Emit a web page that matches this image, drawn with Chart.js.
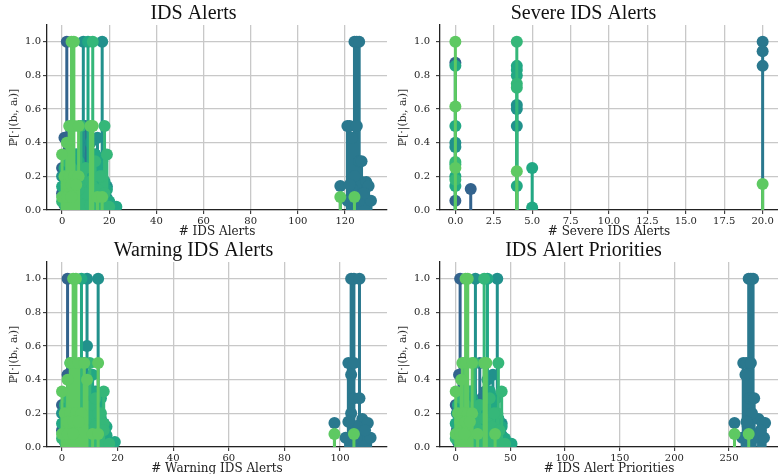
<!DOCTYPE html>
<html>
<head>
<meta charset="utf-8">
<script src="https://cdn.jsdelivr.net/npm/chart.js@4.4.0/dist/chart.umd.min.js"></script>
<style>
  body { margin: 0; background: #fff; width: 778px; height: 474px; overflow: hidden; position: relative; }
  canvas { position: absolute; }
</style>
</head>
<body>
<canvas id="c1" width="389" height="237" style="left:0;top:0"></canvas>
<canvas id="c2" width="389" height="237" style="left:389px;top:0"></canvas>
<canvas id="c3" width="389" height="237" style="left:0;top:237px"></canvas>
<canvas id="c4" width="389" height="237" style="left:389px;top:237px"></canvas>
<script>
// viridis shades, one per group of stems
const colors = ['#33638d', '#2a788e', '#21918c', '#22a884', '#35b779', '#5ec962'];
const yTicks = [0, 0.2, 0.4, 0.6, 0.8, 1.0];
const yTitle = 'ℙ[·|(bᵢ, aᵢ)]';

// IDS Alerts
const idsX = [
  [2, 1, 0, 1, 3, 13, 0, 6, 10, 8],
  [10, 11, 12, 6, 14, 5, 1, 3, 7, 9, 15, 17, 124, 125, 126, 121, 122, 125, 123, 126, 127, 118, 127, 129, 130, 123, 121, 126, 131, 128, 124, 122],
  [9, 17, 15, 12, 3, 8, 0, 15, 19, 8, 4, 1, 9, 16, 6, 2, 5, 7, 10, 13, 17, 19, 3, 11, 14],
  [11, 7, 15, 16, 10, 14, 18, 0, 11, 16, 9, 7, 18, 20, 23, 6, 1, 1, 3, 5, 8, 12, 14, 17, 19, 2, 9, 13],
  [13, 4, 8, 18, 19, 17, 9, 12, 13, 17, 11, 2, 5, 3, 10, 14, 0, 4, 6, 8, 10, 12, 15, 16, 18, 20, 7],
  [4, 5, 3, 5, 7, 12, 13, 2, 0, 1, 3, 5, 7, 2, 4, 6, 0, 2, 4, 15, 17, 118, 124]
];
const idsP = [
  [1.0, 0.43, 0.25, 0.12, 0.05, 0.03, 0.1, 0.29, 0.14, 0.07],
  [0.5, 0.29, 0.33, 0.12, 0.1, 0.03, 0.03, 0.17, 0.1, 0.14, 0.05, 0.14, 1.0, 1.0, 1.0, 0.5, 0.5, 0.5, 0.43, 0.29, 0.29, 0.143, 0.167, 0.167, 0.143, 0.125, 0.055, 0.055, 0.055, 0.1, 0.2, 0.15],
  [1.0, 1.0, 0.43, 0.4, 0.29, 0.25, 0.2, 0.17, 0.14, 0.12, 0.1, 0.05, 0.03, 0.04, 0.33, 0.07, 0.1, 0.17, 0.03, 0.25, 0.03, 0.07, 0.14, 0.17, 0.33],
  [1.0, 0.29, 0.29, 0.25, 0.2, 0.2, 0.17, 0.14, 0.12, 0.12, 0.1, 0.05, 0.05, 0.05, 0.02, 0.33, 0.1, 0.25, 0.03, 0.33, 0.07, 0.05, 0.33, 0.29, 0.12, 0.2, 0.25, 0.07],
  [1.0, 0.5, 0.5, 0.5, 0.33, 0.2, 0.17, 0.17, 0.14, 0.1, 0.05, 0.29, 0.14, 0.33, 0.25, 0.29, 0.05, 0.25, 0.07, 0.03, 0.1, 0.03, 0.12, 0.2, 0.1, 0.02, 0.12],
  [1.0, 1.0, 0.5, 0.5, 0.5, 0.5, 0.5, 0.4, 0.33, 0.2, 0.2, 0.2, 0.2, 0.15, 0.15, 0.15, 0.077, 0.077, 0.077, 0.077, 0.077, 0.077, 0.077]
];
const idsTicks = [0, 20, 40, 60, 80, 100, 120];

// Severe IDS Alerts
const severeX = [
  [0, 0, 1],
  [20, 20, 20],
  [0, 0, 4, 4, 4],
  [0, 0, 0, 0, 4, 4, 4, 4, 5, 5],
  [0, 0, 0, 4, 4, 4],
  [0, 0, 0, 4, 20]
];
const severeP = [
  [0.875, 0.055, 0.125],
  [1.0, 0.944, 0.857],
  [0.4, 0.375, 0.625, 0.6, 0.5],
  [0.857, 0.5, 0.2, 0.143, 0.857, 0.833, 0.8, 0.143, 0.25, 0.015],
  [0.286, 0.27, 0.18, 1.0, 0.75, 0.727],
  [1.0, 0.615, 0.25, 0.23, 0.154]
];
const severeTicks = [0, 2.5, 5, 7.5, 10, 12.5, 15, 17.5, 20];

// Warning IDS Alerts
const warnX = [
  [2, 2, 0, 1, 3, 11, 0, 5, 8, 6],
  [8, 9, 10, 5, 12, 4, 1, 2, 6, 7, 12, 14, 104, 105, 107, 103, 105, 104, 105, 107, 98, 108, 110, 106, 102, 106, 111, 109, 104, 103],
  [9, 13, 9, 7, 3, 6, 0, 12, 15, 6, 3, 1, 8, 14, 5, 2, 4, 6, 8, 11, 14, 15, 3, 9, 12],
  [7, 11, 12, 13, 8, 12, 14, 0, 9, 13, 7, 6, 15, 16, 19, 5, 1, 1, 3, 4, 7, 10, 11, 14, 16, 2, 7, 11],
  [10, 3, 7, 15, 15, 14, 8, 10, 11, 13, 9, 2, 4, 3, 11, 12, 0, 3, 5, 7, 8, 10, 12, 13, 15, 17, 6],
  [4, 5, 3, 4, 6, 8, 13, 2, 0, 1, 3, 5, 7, 9, 2, 4, 6, 0, 2, 4, 11, 13, 98, 105]
];
const warnP = [
  [1.0, 0.43, 0.25, 0.12, 0.05, 0.03, 0.1, 0.29, 0.14, 0.07],
  [0.5, 0.29, 0.33, 0.12, 0.1, 0.03, 0.03, 0.17, 0.1, 0.14, 0.05, 0.14, 1.0, 1.0, 1.0, 0.5, 0.5, 0.43, 0.29, 0.29, 0.143, 0.167, 0.143, 0.125, 0.055, 0.055, 0.055, 0.1, 0.2, 0.15],
  [1.0, 1.0, 0.6, 0.29, 0.29, 0.25, 0.2, 0.17, 0.14, 0.12, 0.1, 0.05, 0.03, 0.04, 0.33, 0.07, 0.1, 0.17, 0.03, 0.25, 0.03, 0.07, 0.14, 0.17, 0.33],
  [1.0, 0.43, 0.29, 0.25, 0.2, 0.2, 0.17, 0.14, 0.12, 0.12, 0.1, 0.05, 0.05, 0.07, 0.03, 0.33, 0.1, 0.25, 0.03, 0.33, 0.07, 0.05, 0.33, 0.29, 0.12, 0.2, 0.25, 0.07],
  [0.5, 0.5, 0.5, 0.33, 0.14, 0.2, 0.17, 0.17, 0.2, 0.1, 0.05, 0.29, 0.14, 0.33, 0.25, 0.29, 0.05, 0.25, 0.07, 0.03, 0.1, 0.03, 0.12, 0.2, 0.1, 0.02, 0.12],
  [1.0, 1.0, 0.5, 0.5, 0.5, 0.5, 0.5, 0.4, 0.33, 0.2, 0.2, 0.2, 0.2, 0.4, 0.15, 0.15, 0.15, 0.077, 0.077, 0.077, 0.077, 0.077, 0.077, 0.077]
];
const warnTicks = [0, 20, 40, 60, 80, 100];

// IDS Alert Priorities
const prioX = [
  [4, 3, 0, 2, 7, 29, 1, 13, 22, 17],
  [22, 24, 27, 13, 31, 11, 2, 7, 15, 20, 33, 38, 268, 270, 272, 263, 266, 270, 265, 269, 273, 255, 277, 281, 283, 267, 262, 274, 282, 279, 271, 266],
  [18, 38, 34, 29, 12, 17, 1, 33, 42, 18, 9, 2, 20, 36, 14, 4, 11, 15, 22, 29, 37, 42, 7, 24, 31],
  [29, 15, 35, 33, 22, 28, 39, 0, 24, 36, 20, 15, 40, 45, 51, 13, 3, 2, 7, 11, 18, 26, 31, 37, 42, 4, 20, 29],
  [26, 8, 17, 39, 42, 38, 20, 26, 30, 38, 25, 5, 11, 7, 22, 31, 0, 9, 13, 18, 22, 26, 33, 35, 40, 45, 15],
  [9, 11, 6, 10, 15, 26, 28, 5, 0, 2, 7, 11, 15, 4, 9, 13, 0, 4, 8, 20, 36, 255, 268]
];
const prioP = [
  [1.0, 0.43, 0.25, 0.12, 0.05, 0.03, 0.1, 0.29, 0.14, 0.07],
  [0.5, 0.29, 0.33, 0.12, 0.1, 0.03, 0.03, 0.17, 0.1, 0.14, 0.05, 0.14, 1.0, 1.0, 1.0, 0.5, 0.5, 0.5, 0.43, 0.29, 0.29, 0.143, 0.167, 0.143, 0.143, 0.125, 0.055, 0.055, 0.055, 0.1, 0.2, 0.15],
  [1.0, 1.0, 0.43, 0.4, 0.29, 0.25, 0.2, 0.17, 0.14, 0.12, 0.1, 0.05, 0.03, 0.04, 0.33, 0.07, 0.1, 0.17, 0.03, 0.25, 0.03, 0.07, 0.14, 0.17, 0.33],
  [1.0, 0.29, 0.29, 0.25, 0.2, 0.2, 0.17, 0.14, 0.12, 0.12, 0.1, 0.05, 0.05, 0.05, 0.02, 0.33, 0.1, 0.25, 0.03, 0.33, 0.07, 0.05, 0.33, 0.29, 0.12, 0.2, 0.25, 0.07],
  [1.0, 0.5, 0.5, 0.5, 0.33, 0.2, 0.17, 0.17, 0.14, 0.1, 0.05, 0.29, 0.14, 0.33, 0.25, 0.29, 0.05, 0.25, 0.07, 0.03, 0.1, 0.03, 0.12, 0.2, 0.1, 0.02, 0.12],
  [1.0, 1.0, 0.5, 0.5, 0.5, 0.5, 0.5, 0.4, 0.33, 0.2, 0.2, 0.2, 0.2, 0.15, 0.15, 0.15, 0.077, 0.077, 0.077, 0.077, 0.077, 0.077, 0.077]
];
const prioTicks = [0, 50, 100, 150, 200, 250];

// one stem = baseline point, top point, gap
function stems(xs, ps) {
  const d = [];
  xs.forEach((x, i) => {
    d.push({ x: x, y: 0 });
    d.push({ x: x, y: ps[i], top: true });
    d.push({ x: x, y: null });
  });
  return d;
}

function panel(id, title, xTitle, xs, ps, xMin, xMax, xTicks, dec, yWidth, yPad, rightPad) {
  const datasets = colors.map((c, i) => ({
    data: stems(xs[i], ps[i]),
    showLine: true,
    spanGaps: false,
    borderColor: c,
    backgroundColor: c,
    borderWidth: 3,
    pointRadius: ctx => (ctx.raw && ctx.raw.top) ? 6 : 0,
    pointHoverRadius: 0,
    pointBorderWidth: 0,
    order: colors.length - 1 - i
  }));
  new Chart(document.getElementById(id), {
    type: 'scatter',
    data: { datasets },
    options: {
      responsive: false,
      animation: false,
      events: [],
      layout: { padding: { top: 2, right: rightPad, left: 0, bottom: 0 } },
      plugins: {
        legend: { display: false },
        tooltip: { enabled: false },
        title: {
          display: true, text: title, color: '#111', padding: 0,
          font: { family: 'Liberation Serif', size: 20, weight: 'normal', lineHeight: 1.15 }
        }
      },
      scales: {
        x: {
          type: 'linear', min: xMin, max: xMax,
          afterBuildTicks: s => { s.ticks = xTicks.map(v => ({ value: v })); },
          afterFit: s => { s.height = 27; },
          ticks: {
            callback: v => v.toFixed(dec), color: '#222', padding: 1, maxRotation: 0, autoSkip: false,
            font: { family: 'DejaVu Serif', size: 10 }
          },
          grid: { color: '#c8c8c8', lineWidth: 1.3, tickColor: '#222', tickLength: 4, tickWidth: 1 },
          border: { color: '#222', width: 1.3 },
          title: {
            display: true, text: xTitle, color: '#222', padding: { top: 0, bottom: 0 },
            font: { family: 'DejaVu Serif', size: 12, lineHeight: 0.8 }
          }
        },
        y: {
          min: 0, max: 1.1,
          afterBuildTicks: s => { s.ticks = yTicks.map(v => ({ value: v })); },
          afterFit: s => { s.width = yWidth; },
          ticks: {
            callback: v => v.toFixed(1), color: '#222', padding: yPad,
            font: { family: 'DejaVu Serif', size: 10 }
          },
          grid: { color: '#c8c8c8', lineWidth: 1.3, tickColor: '#222', tickLength: 4, tickWidth: 1 },
          border: { color: '#222', width: 1.3 },
          title: {
            display: true, text: yTitle, color: '#333', padding: { top: 8, bottom: 0 },
            font: { family: 'DejaVu Serif', size: 11, lineHeight: 1.2 }
          }
        }
      }
    }
  });
}

panel('c1', 'IDS Alerts', '# IDS Alerts', idsX, idsP, -6.4, 137.8, idsTicks, 0, 47, 2, 2);
panel('c2', 'Severe IDS Alerts', '# Severe IDS Alerts', severeX, severeP, -1, 21, severeTicks, 1, 51, 6, 0);
panel('c3', 'Warning IDS Alerts', '# Warning IDS Alerts', warnX, warnP, -5.4, 116.9, warnTicks, 0, 47, 2, 2);
panel('c4', 'IDS Alert Priorities', '# IDS Alert Priorities', prioX, prioP, -14.4, 294.8, prioTicks, 0, 51, 6, 0);
</script>
</body>
</html>
